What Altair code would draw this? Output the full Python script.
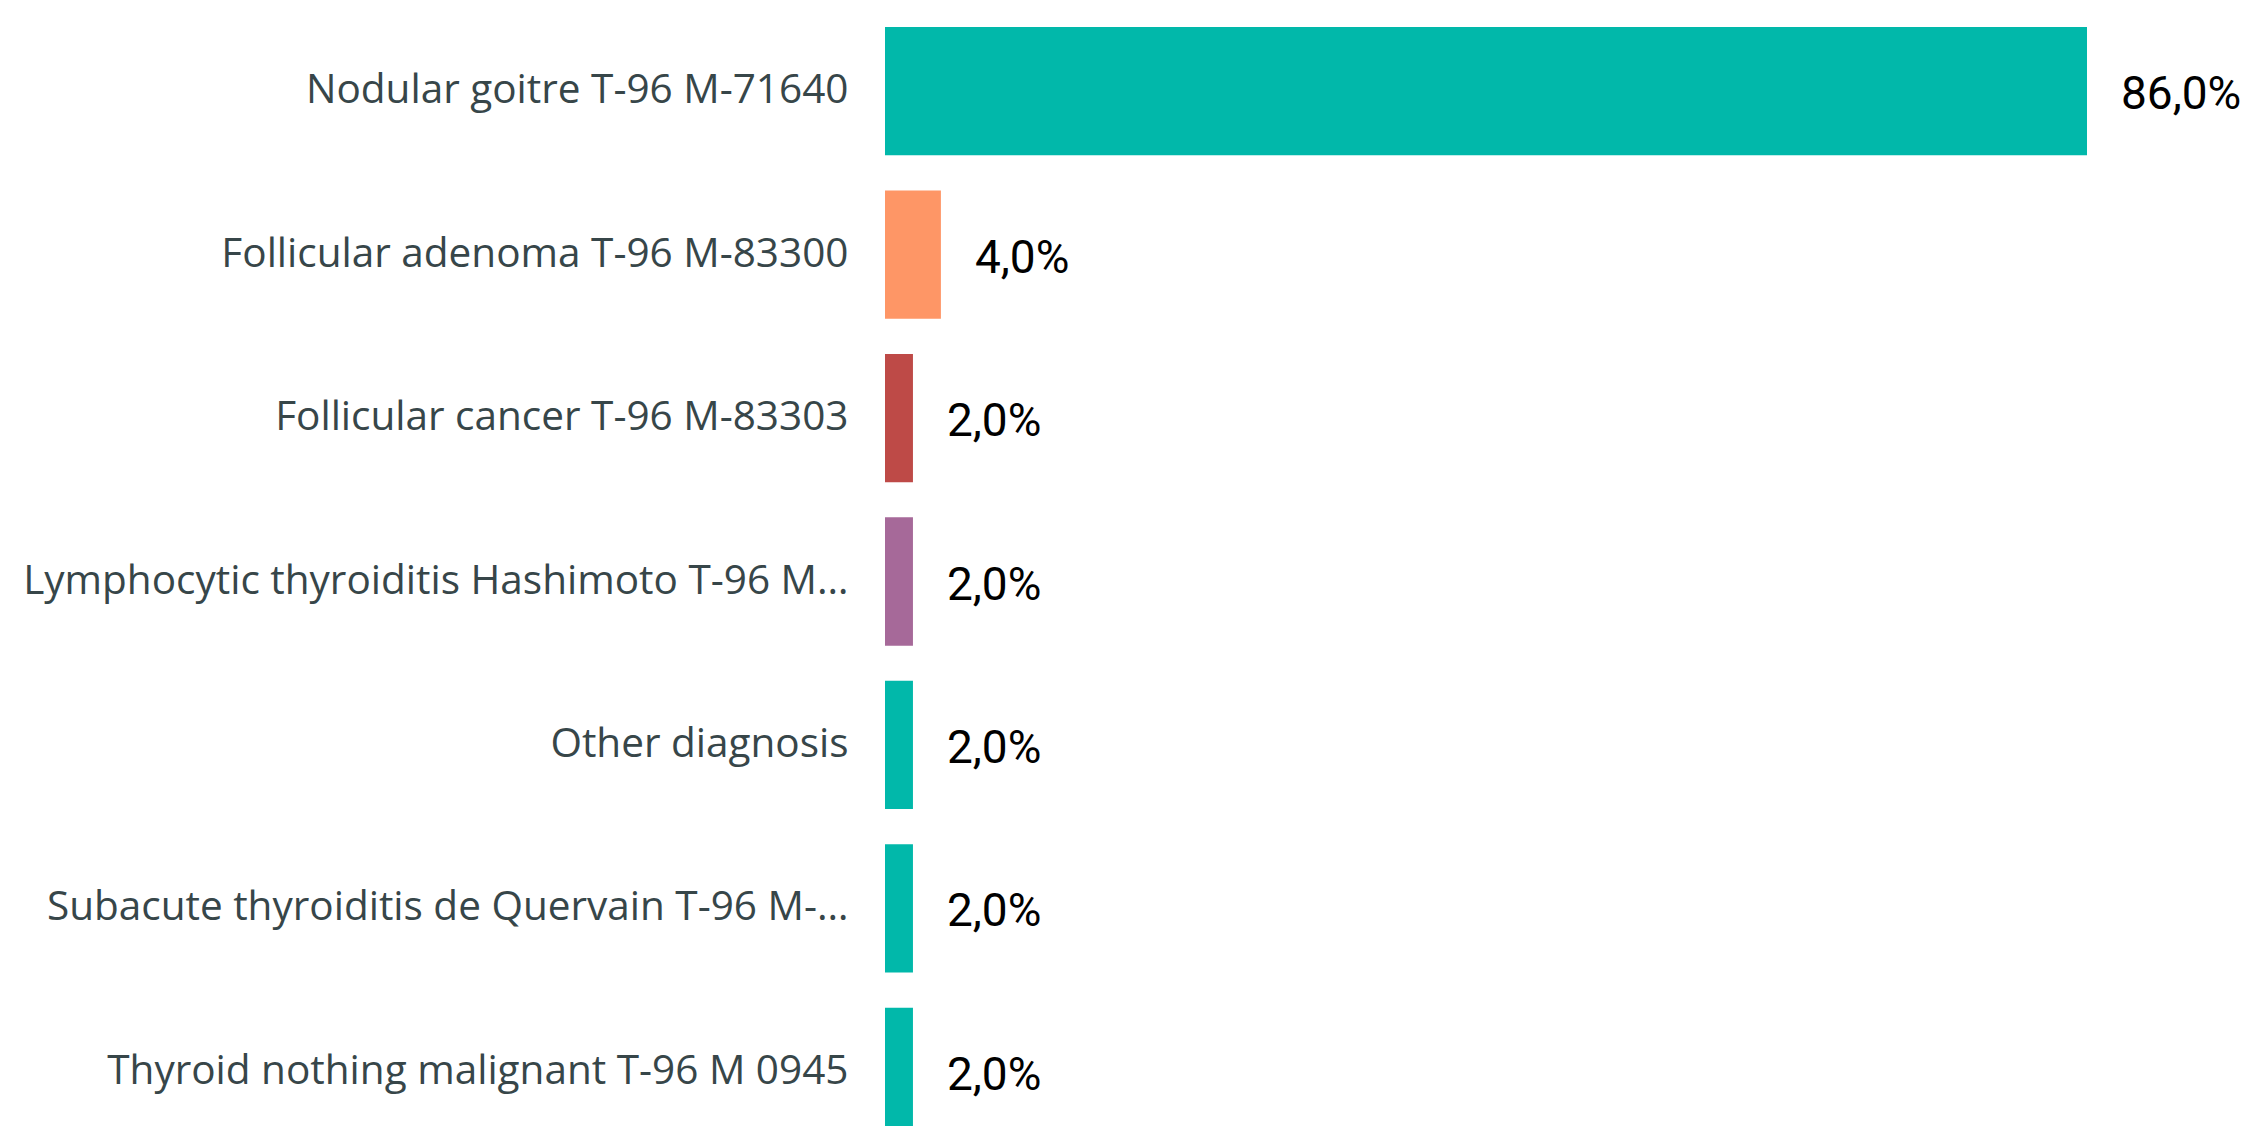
import altair as alt
import pandas as pd

categories = [
    "Nodular goitre T-96 M-71640",
    "Follicular adenoma T-96 M-83300",
    "Follicular cancer T-96 M-83303",
    "Lymphocytic thyroiditis Hashimoto T-96 M…",
    "Other diagnosis",
    "Subacute thyroiditis de Quervain T-96 M-…",
    "Thyroid nothing malignant T-96 M 0945",
]
values = [86.0, 4.0, 2.0, 2.0, 2.0, 2.0, 2.0]
bar_colors = ["#01B8AA", "#FE9666", "#BE4A47", "#A66999", "#01B8AA", "#01B8AA", "#01B8AA"]

df = pd.DataFrame({
    "category": categories,
    "value": values,
    "label": [f"{v:.1f}".replace(".", ",") + "%" for v in values],
})

y_enc = alt.Y(
    "category:N",
    sort=categories,
    scale=alt.Scale(paddingInner=0.215, paddingOuter=0),
    axis=alt.Axis(
        title=None, domain=False, ticks=False, labelPadding=37,
        labelFont="Open Sans", labelFontSize=40.5, labelColor="#374649",
        labelLimit=1000,
    ),
)
x_enc = alt.X("value:Q", scale=alt.Scale(domain=[0, 86], nice=False, zero=True), axis=None)

bars = alt.Chart(df).mark_bar().encode(
    x=x_enc,
    y=y_enc,
    color=alt.Color("category:N", scale=alt.Scale(domain=categories, range=bar_colors), legend=None),
)

text = alt.Chart(df).mark_text(
    align="left", baseline="middle", dx=34, dy=4, font="Roboto", fontSize=46, color="#000000"
).encode(
    x=x_enc,
    y=y_enc,
    text="label:N",
)

chart = (bars + text).properties(
    width=1202,
    height=1109,
    autosize=alt.AutoSizeParams(type="none"),
    padding={"left": 877, "top": 19, "right": 158, "bottom": 0},
).configure_view(strokeWidth=0)

chart.save("out.html", embed_options={"renderer": "svg", "actions": False})
